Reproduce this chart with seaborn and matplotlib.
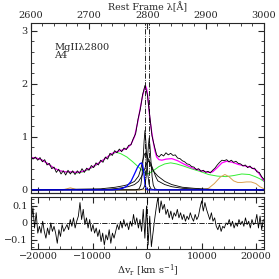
import numpy as np
import matplotlib
matplotlib.use('Agg')
import matplotlib.pyplot as plt
from matplotlib.ticker import MultipleLocator, FuncFormatter
import seaborn as sns

sns.set_style('ticks')
plt.rcParams['font.family'] = ['DejaVu Serif']
plt.rcParams['font.size'] = 7
plt.rcParams['mathtext.fontset'] = 'dejavuserif'

C_KMS = 299792.458
LAM0 = 2800.0

# observed spectrum, 4 A steps from 2600 to 3000
spec_wl = np.arange(2600, 3001, 4)
spec_flux = [0.63, 0.58, 0.62, 0.56, 0.61, 0.53, 0.57, 0.47, 0.50, 0.40,
             0.43, 0.33, 0.39, 0.30, 0.36, 0.28, 0.37, 0.30, 0.36, 0.29,
             0.36, 0.31, 0.40, 0.33, 0.41, 0.37, 0.46, 0.42, 0.51, 0.47,
             0.56, 0.52, 0.62, 0.58, 0.69, 0.65, 0.74, 0.70, 0.77, 0.72,
             0.79, 0.76, 0.84, 0.85, 0.97, 1.06, 1.33, 1.52, 1.80, 1.97,
             1.80, 1.42, 1.02, 0.83, 0.66, 0.62, 0.67, 0.64, 0.70, 0.66,
             0.69, 0.65, 0.66, 0.60, 0.59, 0.55, 0.53, 0.49, 0.48, 0.44,
             0.43, 0.38, 0.40, 0.35, 0.37, 0.33, 0.35, 0.32, 0.37, 0.41,
             0.47, 0.52, 0.56, 0.55, 0.57, 0.53, 0.56, 0.52, 0.54, 0.50,
             0.49, 0.45, 0.47, 0.42, 0.45, 0.40, 0.41, 0.34, 0.33, 0.25,
             0.20]

# total model (magenta)
model_wl = [2600, 2610, 2620, 2630, 2640, 2650, 2660, 2670, 2680, 2690,
            2700, 2710, 2720, 2730, 2740, 2750, 2760, 2766, 2772, 2778,
            2784, 2788, 2792, 2795, 2797, 2799, 2801, 2804, 2807, 2810,
            2813, 2816, 2820, 2825, 2832, 2842, 2852, 2864, 2878, 2893,
            2905, 2912, 2920, 2928, 2936, 2946, 2956, 2968, 2979, 2988,
            2994, 3000]
model_flux = [0.61, 0.60, 0.56, 0.49, 0.41, 0.36, 0.34, 0.34, 0.33, 0.35,
              0.40, 0.46, 0.53, 0.61, 0.69, 0.73, 0.76, 0.79, 0.86, 1.00,
              1.30, 1.55, 1.78, 1.90, 1.96, 1.90, 1.75, 1.38, 1.13, 0.92,
              0.74, 0.62, 0.57, 0.56, 0.58, 0.59, 0.55, 0.48, 0.41, 0.36,
              0.33, 0.34, 0.42, 0.51, 0.54, 0.52, 0.48, 0.45, 0.42, 0.36,
              0.27, 0.17]

# FeII-like pseudo continuum (green)
green_wl = [2600, 2610, 2620, 2630, 2640, 2650, 2660, 2670, 2680, 2690,
            2700, 2710, 2720, 2730, 2740, 2747, 2755, 2765, 2775, 2785,
            2792, 2798, 2803, 2810, 2820, 2830, 2840, 2850, 2862, 2875,
            2890, 2905, 2920, 2935, 2948, 2962, 2975, 2985, 2993, 3000]
green_flux = [0.61, 0.60, 0.56, 0.49, 0.41, 0.36, 0.34, 0.33, 0.32, 0.34,
              0.39, 0.45, 0.53, 0.61, 0.68, 0.71, 0.68, 0.62, 0.53, 0.43,
              0.36, 0.30, 0.31, 0.36, 0.44, 0.49, 0.51, 0.49, 0.45, 0.40,
              0.35, 0.29, 0.26, 0.25, 0.27, 0.30, 0.29, 0.25, 0.21, 0.16]

# orange component
orange_wl = [2600, 2655, 2662, 2668, 2674, 2680, 2895, 2905, 2915, 2925,
             2933, 2940, 2948, 2955, 2962, 2970, 2978, 2986, 2993, 3000]
orange_flux = [0.0, 0.0, 0.02, 0.04, 0.02, 0.0, 0.0, 0.03, 0.12, 0.24,
               0.29, 0.25, 0.17, 0.14, 0.14, 0.15, 0.15, 0.12, 0.06, 0.02]

# blueshifted component (blue)
blue_wl = [2600, 2740, 2750, 2758, 2765, 2772, 2778, 2783, 2787, 2790,
           2792, 2794, 2796, 2798, 2800, 3000]
blue_flux = [0.0, 0.0, 0.01, 0.03, 0.07, 0.16, 0.30, 0.42, 0.49, 0.51,
             0.47, 0.33, 0.12, 0.02, 0.0, 0.0]

# MgII doublet components (black)
narrow_a_wl = [2600, 2780, 2786, 2789, 2791, 2793, 2794.5, 2796, 2797.5,
               2799, 2801, 2803, 2806, 2812, 3000]
narrow_a_flux = [0.0, 0.0, 0.02, 0.10, 0.28, 0.62, 0.92, 1.12, 0.92,
                 0.62, 0.28, 0.10, 0.02, 0.0, 0.0]
narrow_b_wl = [2600, 2787, 2793, 2796, 2798, 2800, 2801.7, 2803.2, 2804.7,
               2806.2, 2808.2, 2810.2, 2813, 2819, 3000]
narrow_b_flux = [0.0, 0.0, 0.02, 0.09, 0.25, 0.55, 0.81, 0.98, 0.81,
                 0.55, 0.25, 0.09, 0.02, 0.0, 0.0]
broad_c_wl = [2600, 2720, 2745, 2760, 2767, 2778, 2785, 2789, 2792, 2795,
              2797, 2799, 2802, 2806, 2810, 2818, 2830, 2842, 2860, 2880,
              2910, 2950, 3000]
broad_c_flux = [0.0, 0.02, 0.05, 0.08, 0.10, 0.16, 0.26, 0.40, 0.55, 0.67,
                0.70, 0.67, 0.57, 0.45, 0.36, 0.26, 0.16, 0.10, 0.05, 0.03,
                0.01, 0.0, 0.0]
broad_d_wl = [2600, 2730, 2750, 2767, 2778, 2785, 2790, 2795, 2799, 2803,
              2806, 2810, 2814, 2818, 2830, 2842, 2860, 2880, 2910, 3000]
broad_d_flux = [0.0, 0.01, 0.03, 0.06, 0.10, 0.16, 0.25, 0.38, 0.50, 0.55,
                0.50, 0.38, 0.26, 0.17, 0.10, 0.06, 0.03, 0.015, 0.0, 0.0]

doublet_wl = [2796.35, 2803.53]

# residuals vs velocity
resid = [0.01, 0.09, -0.03, 0.06, -0.06,
         -0.02, -0.06, 0.01, -0.05, -0.09, -0.03, -0.07, 0.00, -0.05, -0.02,
         -0.06, -0.12, -0.04, -0.08, -0.01, -0.05, -0.03,
         -0.01, -0.04, 0.02, -0.02, 0.03, -0.03, 0.01,
         0.04, 0.12, 0.02, 0.08, -0.01,
         0.03, -0.03, 0.02, -0.05, -0.01, -0.06, -0.03,
         -0.08, -0.04, -0.11, -0.06, -0.13, -0.07, -0.10, -0.04, -0.12, -0.06, -0.09, -0.05,
         -0.01, -0.04, 0.01, -0.03, 0.02, -0.02, 0.00, -0.04,
         0.01, -0.02, 0.05, -0.01, 0.03, -0.03, 0.02, -0.05,
         0.08, -0.09, 0.10, -0.13, 0.04, -0.14, -0.06,
         0.02, 0.09, 0.15, 0.06, 0.13, 0.08, 0.11, 0.05,
         0.08, 0.03, 0.07, 0.02, 0.06, 0.04, 0.08, 0.03, 0.06, 0.02,
         0.05, 0.01, 0.04, 0.02, 0.06, 0.03, 0.01, 0.05, 0.02, 0.04,
         0.09, 0.13, 0.07, 0.12, 0.08,
         0.05, 0.02, 0.06, 0.01, 0.03,
         -0.02, -0.04, -0.01, -0.05, -0.02, -0.03, 0.00,
         -0.01, 0.02, -0.02, 0.01, -0.03, 0.00, -0.02, 0.02, -0.01, 0.01,
         -0.02, 0.03, -0.01, 0.01, -0.03, 0.02, -0.01, 0.00,
         0.05, -0.03, 0.04, -0.04, 0.02]
resid_v = np.linspace(-21300, 21300, len(resid))


def to_v(wl):
    return (np.asarray(wl) / LAM0 - 1.0) * C_KMS


def to_wl(v):
    return LAM0 * (1.0 + np.asarray(v) / C_KMS)


wl_min, wl_max = 2600, 3000
v_min, v_max = to_v(wl_min), to_v(wl_max)

fig = plt.figure(figsize=(2.79, 2.79), dpi=100)
ax = fig.add_axes([0.110, 0.308, 0.836, 0.610])
axr = fig.add_axes([0.110, 0.108, 0.836, 0.186])

lw = 0.7


def line(a, x, y, color, w=lw):
    sns.lineplot(x=x, y=y, ax=a, color=color, lw=w, estimator=None, sort=False)


line(ax, green_wl, green_flux, '#33ee33')
line(ax, orange_wl, orange_flux, '#d8a050')
for xw, yf in [(narrow_a_wl, narrow_a_flux), (narrow_b_wl, narrow_b_flux),
               (broad_c_wl, broad_c_flux), (broad_d_wl, broad_d_flux)]:
    line(ax, xw, yf, 'black', 0.6)
line(ax, blue_wl, blue_flux, '#0000ff', 0.9)
line(ax, model_wl, model_flux, '#ff00ff', 0.9)
line(ax, spec_wl, spec_flux, 'black', 0.6)
for w in doublet_wl:
    ax.axvline(w, color='black', lw=0.6, ls='-.')

ax.set_xlim(wl_min, wl_max)
ax.set_ylim(-0.06, 3.15)
ax.xaxis.tick_top()
ax.xaxis.set_label_position('top')
ax.set_xlabel('Rest Frame λ[Å]', labelpad=0.5, fontsize=6.8)
ax.set_ylabel('')
ax.xaxis.set_major_locator(MultipleLocator(100))
ax.xaxis.set_minor_locator(MultipleLocator(20))
ax.yaxis.set_major_locator(MultipleLocator(1))
ax.yaxis.set_minor_locator(MultipleLocator(0.2))
ax.tick_params(which='both', direction='in', right=True, top=True, bottom=False, pad=2)
ax.tick_params(which='major', length=4)
ax.tick_params(which='minor', length=2)
ax.text(2640, 2.68, 'MgIIλ2800', fontsize=7, ha='left', va='center')
ax.text(2640, 2.53, 'A4', fontsize=7, ha='left', va='center')

sec = ax.secondary_xaxis('bottom', functions=(to_v, to_wl))
sec.xaxis.set_major_locator(MultipleLocator(10000))
sec.xaxis.set_minor_locator(MultipleLocator(2000))
sec.tick_params(which='both', direction='in', labelbottom=False)
sec.tick_params(which='major', length=4)
sec.tick_params(which='minor', length=2)

line(axr, resid_v, resid, 'black', 0.6)
axr.axhline(0, color='black', lw=0.6, ls='-.')
axr.axvline(0, color='black', lw=0.6, ls='-.')
axr.set_xlim(v_min, v_max)
axr.set_ylim(-0.153, 0.153)
axr.xaxis.set_major_locator(MultipleLocator(10000))
axr.xaxis.set_minor_locator(MultipleLocator(2000))
axr.yaxis.set_major_locator(MultipleLocator(0.1))
axr.yaxis.set_minor_locator(MultipleLocator(0.02))
axr.yaxis.set_major_formatter(FuncFormatter(lambda y, p: ('%g' % round(y, 2)).replace('-', '\u2212')))
axr.tick_params(which='both', direction='in', right=True, top=True, pad=2)
axr.tick_params(which='major', length=4)
axr.tick_params(which='minor', length=2)
axr.set_xlabel(r'$\Delta$v$_{\rm r}$ [km s$^{-1}$]', labelpad=2)
axr.set_ylabel('')

for a in (ax, axr):
    for s in a.spines.values():
        s.set_linewidth(0.8)

fig.savefig('out.png', dpi=100)
